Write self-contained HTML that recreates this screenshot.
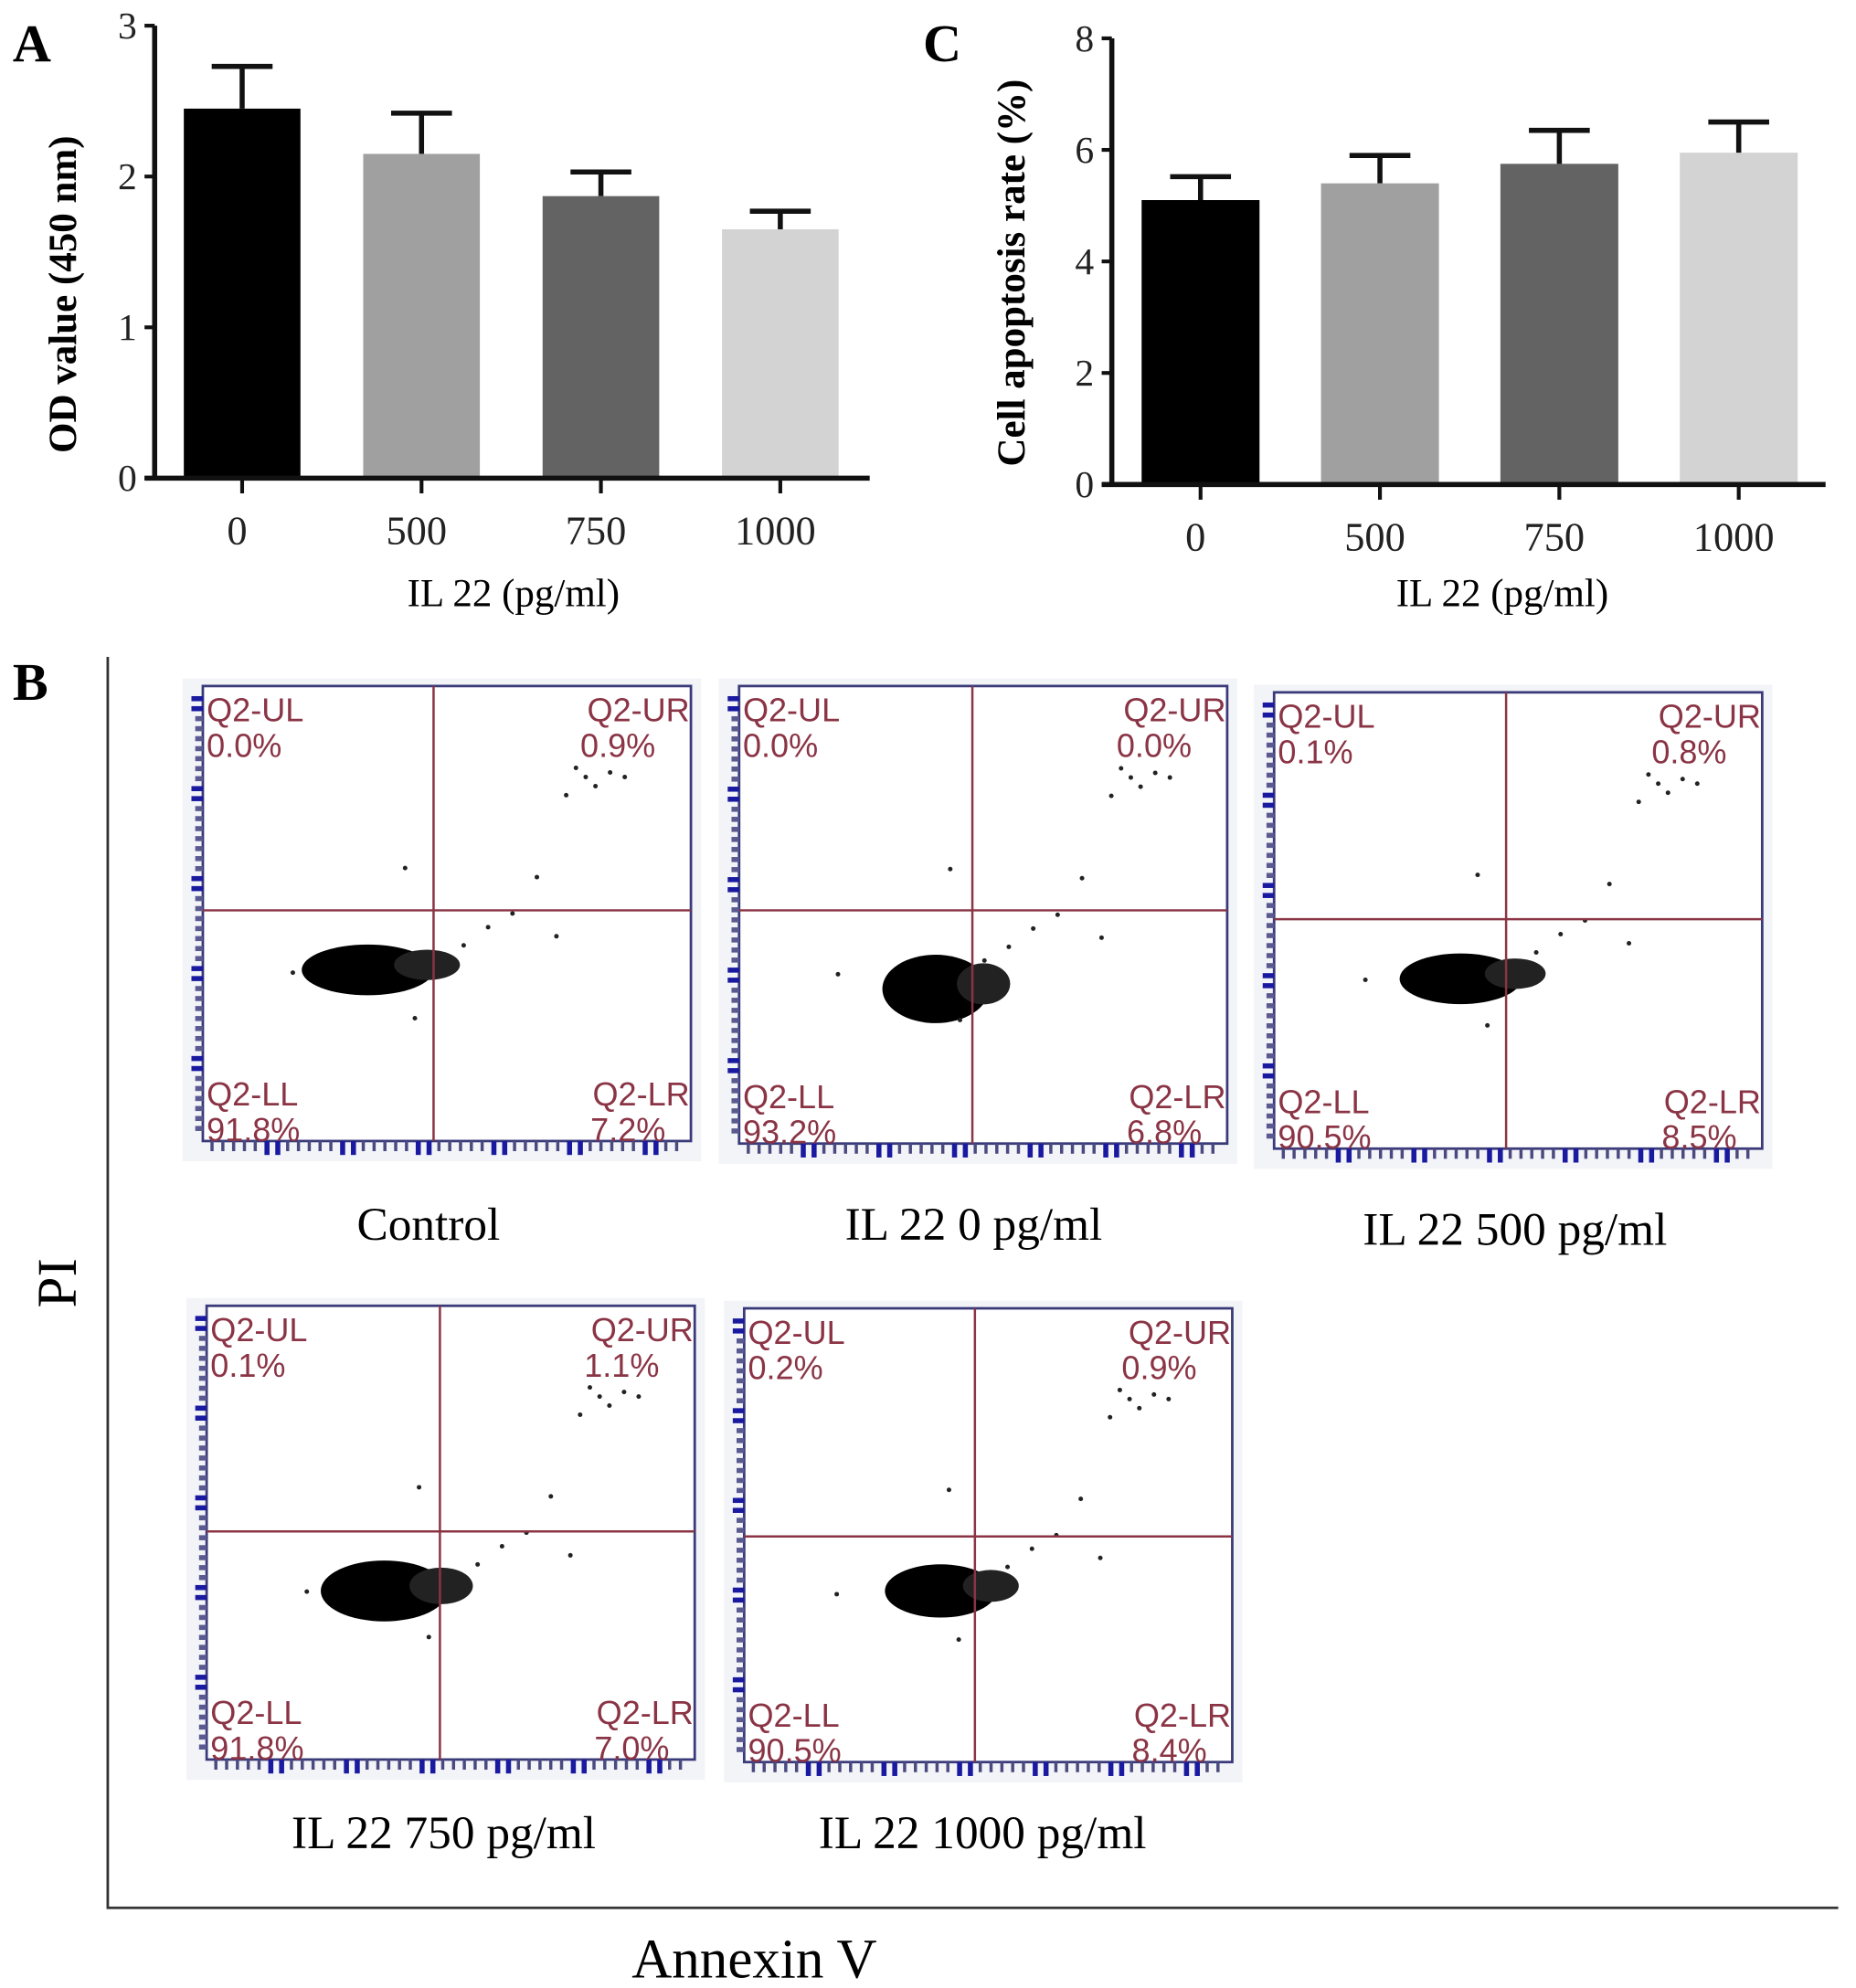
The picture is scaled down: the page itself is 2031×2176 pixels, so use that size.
<!DOCTYPE html>
<html><head><meta charset="utf-8"><style>
html,body{margin:0;padding:0;background:#fff}
svg{display:block}
.serif{font-family:"Liberation Serif",serif}
.sans{font-family:"Liberation Sans",sans-serif}
</style></head><body>
<svg id="fig" width="2031" height="2176" viewBox="0 0 1464 1568" xmlns="http://www.w3.org/2000/svg">
<g id="panelA"></g>
<g id="panelC"></g>
<g id="panelB"></g>
</svg>
<script>
const NS="http://www.w3.org/2000/svg";
const categories=["0","500","750","1000"];
const odValues=[2.45,2.15,1.87,1.65];
const odErrors=[0.28,0.27,0.16,0.12];
const odTicks=[0,1,2,3];
const apoValues=[5.1,5.4,5.75,5.95];
const apoErrors=[0.42,0.5,0.6,0.55];
const apoTicks=[0,2,4,6,8];
const barFills=["#000000","#a0a0a0","#636363","#d3d3d3"];
const flowTitles=["Control","IL 22  0 pg/ml","IL 22  500 pg/ml","IL 22  750 pg/ml","IL 22  1000 pg/ml"];
const flowUL=["0.0%","0.0%","0.1%","0.1%","0.2%"];
const flowUR=["0.9%","0.0%","0.8%","1.1%","0.9%"];
const flowLL=["91.8%","93.2%","90.5%","91.8%","90.5%"];
const flowLR=["7.2%","6.8%","8.5%","7.0%","8.4%"];

function el(tag,attrs,parent,text){const e=document.createElementNS(NS,tag);for(const k in attrs)e.setAttribute(k,attrs[k]);if(text!==undefined)e.textContent=text;parent.appendChild(e);return e;}

function barChart(g,cfg){
  const y=v=>cfg.y0-(v-0)/(cfg.ymax)*(cfg.y0-cfg.ytop);
  const bw=cfg.bw;
  const xc=i=>cfg.x0+cfg.first+i*cfg.step;
  let t=el('text',{x:cfg.letterX,y:48,'font-size':42,'font-weight':'bold',class:'serif'},g,cfg.letter);
  
  
  cfg.vals.forEach((v,i)=>{
    const r=el('rect',{x:xc(i)-bw/2,y:y(v),width:bw,height:cfg.y0-y(v),fill:barFills[i]},g);
    
    
    const top=y(v+cfg.errs[i]);
    const e=el('path',{d:`M${xc(i)},${y(v)} V${top} M${xc(i)-24},${top} H${xc(i)+24}`,stroke:'#111','stroke-width':4,fill:'none'},g);
    
    
    const lb=el('text',{x:xc(i)-4,y:cfg.y0+52,'font-size':32,'text-anchor':'middle',class:'serif',fill:'#222'},g,categories[i]);
    
    
    el('line',{x1:xc(i),x2:xc(i),y1:cfg.y0,y2:cfg.y0+12,stroke:'#111','stroke-width':3},g);
  });
  const ax=el('path',{d:`M${cfg.x0},${cfg.ytop} V${cfg.y0} M${cfg.x0-8},${cfg.y0} H${cfg.xend}`,stroke:'#111','stroke-width':4,fill:'none'},g);
  
  
  cfg.ticks.forEach(tv=>{
    el('line',{x1:cfg.x0-8,x2:cfg.x0,y1:y(tv),y2:y(tv),stroke:'#111','stroke-width':3},g);
    const tl=el('text',{x:cfg.x0-14,y:y(tv)+10,'font-size':30,'text-anchor':'end',class:'serif',fill:'#222'},g,String(tv));
    
    
  });
  const xt=el('text',{x:cfg.xtitleX,y:478,'font-size':31,'text-anchor':'middle',class:'serif'},g,'IL 22 (pg/ml)');
  
  
  const yt=el('text',{x:0,y:0,'font-size':31,'font-weight':'bold','text-anchor':'middle',class:'serif',transform:`translate(${cfg.ytitleX},${cfg.ytitleY}) rotate(-90)`},g,cfg.ytitle);
  
  
}
barChart(document.getElementById('panelA'),{letter:'A',letterX:10,x0:122,ytop:20,y0:377,ymax:3,xend:686,first:69,step:141.5,bw:92,vals:odValues,errs:odErrors,ticks:odTicks,ytitle:'OD value (450 nm)',ytitleX:60,ytitleY:232,xtitleX:405});
barChart(document.getElementById('panelC'),{letter:'C',letterX:728,x0:877,ytop:30,y0:382,ymax:8,xend:1440,first:70,step:141.5,bw:93,vals:apoValues,errs:apoErrors,ticks:apoTicks,ytitle:'Cell apoptosis rate (%)',ytitleX:808,ytitleY:215,xtitleX:1185});

// Panel B
const B=document.getElementById('panelB');
let bl=el('text',{x:10,y:552,'font-size':42,'font-weight':'bold',class:'serif'},B,'B');


let frame=el('path',{d:'M85,518 V1505 H1450',stroke:'#333','stroke-width':2,fill:'none'},B);


let pi=el('text',{x:0,y:0,'font-size':44,'text-anchor':'middle',class:'serif',transform:'translate(60,1012) rotate(-90)'},B,'PI');


let an=el('text',{x:595,y:1560,'font-size':44,'text-anchor':'middle',class:'serif'},B,'Annexin V');



const plots=[
 {L:160,T:541,R:545,B:900,v:342,h:718,cx:290,cy:765,rx:52,ry:20,lx:338,ly:978},
 {L:583,T:541,R:968,B:902,v:767,h:718,cx:738,cy:780,rx:42,ry:27,lx:768,ly:978},
 {L:1005,T:546,R:1390,B:906,v:1188,h:725,cx:1152,cy:772,rx:48,ry:20,lx:1195,ly:982},
 {L:163,T:1030,R:548,B:1388,v:347,h:1208,cx:303,cy:1255,rx:50,ry:24,lx:350,ly:1458},
 {L:587,T:1032,R:972,B:1390,v:769,h:1212,cx:742,cy:1255,rx:44,ry:21,lx:775,ly:1458}
];
const outX=[0.8,0.78,0.82,0.85,0.76,0.88,0.7,0.65,0.6,0.55,0.45,0.2,0.43,0.5,0.74];
const outY=[0.2,0.18,0.22,0.19,0.24,0.2,0.42,0.5,0.53,0.57,0.73,0.63,0.4,0.6,0.55];

plots.forEach((p,i)=>{
  const g=el('g',{},B);
  
  
  el('rect',{x:p.L-16,y:p.T-6,width:p.R-p.L+24,height:p.B-p.T+22,fill:'#f3f4f8'},g);
  el('rect',{x:p.L,y:p.T,width:p.R-p.L,height:p.B-p.T,fill:'#fff',stroke:'#3a3a7a','stroke-width':2},g);
  for(let k=0;k<44;k++){const yy=p.T+8+k*(p.B-p.T-12)/44;const big=(k%9<2);const w=big?9:6;el('rect',{x:p.L-w,y:yy,width:w,height:4,fill:big?'#1a1aa0':'#5a5a90'},g);}
  for(let k=0;k<44;k++){const xx=p.L+6+k*(p.R-p.L-10)/44;const big=(k%7==5||k%7==6);const h=big?11:8;el('rect',{x:xx,y:p.B,width:big?4:2.5,height:h,fill:big?'#1a1aa0':'#4a4a80'},g);}
  const blob=el('ellipse',{cx:p.cx,cy:p.cy,rx:p.rx,ry:p.ry,fill:'#000'},g);
  
  
  el('ellipse',{cx:p.cx+p.rx*0.9,cy:p.cy-4,rx:p.rx*0.5,ry:p.ry*0.6,fill:'#222'},g);
  const W=p.R-p.L,H=p.B-p.T;
  outX.forEach((fx,k)=>{el('circle',{cx:p.L+fx*W+(i*7%13)-6,cy:p.T+outY[k]*H,r:1.8,fill:'#222'},g);});
  el('line',{x1:p.v,x2:p.v,y1:p.T,y2:p.B,stroke:'#8a3445','stroke-width':1.8},g);
  el('line',{x1:p.L,x2:p.R,y1:p.h,y2:p.h,stroke:'#8a3445','stroke-width':1.8},g);
  const st={'font-size':26,class:'sans',fill:'#8a3445'};
  const q=[['Q2-UL',p.L+3,p.T+28,'start'],[flowUL[i],p.L+3,p.T+56,'start'],['Q2-UR',p.R-1,p.T+28,'end'],[flowUR[i],p.R-28,p.T+56,'end'],
           ['Q2-LL',p.L+3,p.B-28,'start'],[flowLL[i],p.L+3,p.B,'start'],['Q2-LR',p.R-1,p.B-28,'end'],[flowLR[i],p.R-20,p.B,'end']];
  q.forEach(a=>{const t=el('text',Object.assign({x:a[1],y:a[2],'text-anchor':a[3]},st),g,a[0]);
    
    });
  const tt=el('text',{x:p.lx,y:p.ly,'font-size':37,'text-anchor':'middle',class:'serif'},g,flowTitles[i]);
  
  
});
</script>
</body></html>
